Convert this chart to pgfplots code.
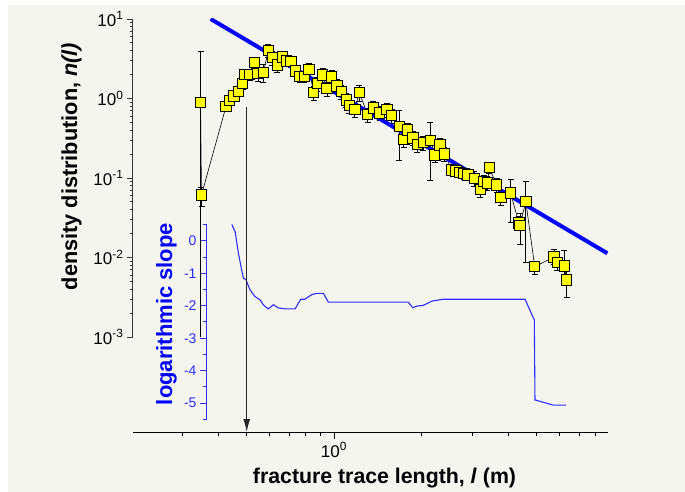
\documentclass[border=0pt]{standalone}
\usepackage{pgfplots}
\pgfplotsset{compat=1.18}
\usepackage{fontspec}
\setmainfont{Liberation Sans}
\usetikzlibrary{arrows.meta}
\definecolor{bg}{RGB}{245,245,240}
\definecolor{slopeblue}{RGB}{45,45,255}
\definecolor{mkyellow}{RGB}{255,255,0}
\begin{document}
\begin{tikzpicture}
\path (0pt,0pt) rectangle (685pt,492pt);
\fill[bg] (8pt,0pt) rectangle (685pt,487pt);
% inset: logarithmic slope
\begin{axis}[at={(206pt,72pt)}, anchor=south west, scale only axis, width=402pt, height=196pt,
  xmode=log, xmin=0.3619, xmax=8.807, ymin=-5.517, ymax=0.514,
  axis x line=none, axis y line*=left,
  axis line style={-, slopeblue, line width=1pt},
  ytick={-5,-4,-3,-2,-1,0}, yticklabels={-5,-4,-3,-2,-1,0},
  minor ytick={-5.5,-4.5,-3.5,-2.5,-1.5,-0.5,0.5},
  tick align=outside, major tick length=6pt, minor tick length=3.5pt,
  tick style={slopeblue, line width=0.9pt},
  yticklabel style={text=slopeblue, font=\fontsize{14}{16}\selectfont},
  clip=true]
\addplot[slopeblue, line width=1.1pt] coordinates {
(0.444,0.50) (0.456,0.28) (0.468,-0.38) (0.480,-0.89) (0.487,-1.15) (0.497,-1.20)
(0.513,-1.51) (0.534,-1.72) (0.556,-1.82) (0.570,-1.97) (0.593,-2.10) (0.618,-1.97)
(0.643,-2.07) (0.687,-2.10) (0.734,-2.10) (0.768,-1.80) (0.794,-1.80) (0.838,-1.66)
(0.872,-1.62) (0.919,-1.62) (0.956,-1.89) (1.804,-1.89) (1.868,-2.06) (1.938,-2.01)
(2.032,-1.99) (2.172,-1.86) (2.382,-1.80) (4.557,-1.80) (4.906,-2.44) (4.932,-4.90)
(5.704,-5.06) (6.31,-5.06)};
\end{axis}
% bottom x axis and arrow
\begin{axis}[at={(133pt,60pt)}, anchor=south west, scale only axis, width=475pt, height=413pt,
  xmode=log, ymode=log, xmin=0.2027, xmax=8.807, ymin=6.38e-5, ymax=10,
  axis y line=none, axis x line*=bottom,
  axis line style={-, black, line width=1pt},
  xtick={1}, xticklabels={10\textsuperscript{0}},
  minor xtick={0.3,0.4,0.5,0.6,0.7,0.8,0.9,2,3,4,5,6,7,8},
  tick align=outside, major tick length=7pt, minor tick length=4pt,
  tick style={black, line width=0.9pt},
  xticklabel style={font=\fontsize{17}{19}\selectfont},
  clip=false]
\addplot[black!85, line width=0.9pt, -{Latex[length=13pt,width=7pt]}] coordinates {(0.5,0.78) (0.5,6.38e-5)};
\end{axis}
% main axis
\begin{axis}[at={(133pt,155pt)}, anchor=south west, scale only axis, width=475pt, height=318pt,
  xmode=log, ymode=log, xmin=0.2027, xmax=8.807, ymin=1e-3, ymax=10,
  axis x line=none, axis y line*=left,
  axis line style={-, black!80, line width=1pt},
  ytick={1e-3,1e-2,1e-1,1,10},
  yticklabels={10\textsuperscript{-3},10\textsuperscript{-2},10\textsuperscript{-1},10\textsuperscript{0},10\textsuperscript{1}},
  minor ytick={2e-3,3e-3,4e-3,5e-3,6e-3,7e-3,8e-3,9e-3,2e-2,3e-2,4e-2,5e-2,6e-2,7e-2,8e-2,9e-2,0.2,0.3,0.4,0.5,0.6,0.7,0.8,0.9,2,3,4,5,6,7,8,9},
  tick align=outside, major tick length=6pt, minor tick length=3.5pt,
  tick style={black!80, line width=0.9pt},
  yticklabel style={font=\fontsize{17}{19}\selectfont},
  clip=true]
\addplot[black, line width=0.6pt, mark=square*, mark size=5.2pt,
  mark options={fill=mkyellow, draw=black, line width=0.9pt},
  error bars/.cd, y dir=both, y explicit relative,
  error bar style={black, line width=0.8pt},
  error mark options={rotate=90, mark size=3pt, black, line width=0.8pt}]
  table[x=x, y=y, y error plus=ep, y error minus=em] {
x y ep em
0.3465 0.885 3.39 0.999
0.3492 0.0611 0.26 0.29
0.4242 0.793 0.12 0.12
0.4351 0.938 0.12 0.12
0.4518 1.075 0.15 0.15
0.4684 1.235 0.15 0.15
0.4836 1.553 0.15 0.15
0.4906 1.993 0.15 0.15
0.5122 2.004 0.15 0.15
0.5308 2.837 0.15 0.15
0.5471 2.075 0.2 0.2
0.5706 2.118 0.25 0.25
0.5935 4.017 0.18 0.18
0.6136 3.28 0.2 0.2
0.6373 2.638 0.2 0.2
0.6628 3.337 0.15 0.15
0.6867 2.963 0.15 0.15
0.7097 2.904 0.15 0.15
0.7355 2.23 0.15 0.15
0.7633 1.88 0.15 0.15
0.791 1.902 0.15 0.15
0.8201 2.316 0.2 0.2
0.8511 1.19 0.2 0.2
0.877 1.553 0.2 0.2
0.9142 1.975 0.2 0.2
0.946 1.344 0.2 0.2
0.9819 1.864 0.2 0.2
1.024 1.436 0.2 0.2
1.061 1.235 0.2 0.2
1.102 0.957 0.2 0.2
1.129 0.816 0.2 0.2
1.18 0.7314 0.2 0.2
1.223 1.186 0.22 0.22
1.305 0.629 0.2 0.2
1.366 0.764 0.2 0.2
1.437 0.657 0.2 0.2
1.523 0.7334 0.2 0.2
1.581 0.6164 0.2 0.2
1.678 0.4418 0.59 0.62
1.741 0.3032 0.2 0.2
1.794 0.4016 0.2 0.2
1.873 0.3184 0.2 0.2
1.938 0.2638 0.2 0.2
2.035 0.278 0.2 0.2
2.151 0.298 0.67 0.69
2.23 0.1947 0.2 0.2
2.32 0.2601 0.2 0.2
2.404 0.2015 0.2 0.2
2.552 0.126 0.15 0.15
2.63 0.1232 0.15 0.15
2.711 0.1183 0.15 0.15
2.803 0.1136 0.15 0.15
2.898 0.1091 0.15 0.15
3.044 0.0991 0.23 0.21
3.2 0.0721 0.2 0.2
3.278 0.0898 0.2 0.2
3.383 0.0865 0.2 0.2
3.432 0.1351 0.15 0.15
3.634 0.0816 0.2 0.2
3.759 0.0572 0.2 0.2
4.064 0.0646 0.50 0.57
4.337 0.0273 0.2 0.2
4.379 0.0254 0.42 0.43
4.585 0.0506 0.81 0.83
4.922 0.00766 0.18 0.21
5.736 0.01015 0.25 0.2
5.888 0.0086 0.2 0.2
6.224 0.00787 0.58 0.25
6.345 0.00521 0.4 0.39
};
\addplot[blue, line width=4pt] coordinates {(0.3757,10) (8.76,0.0113)};
\end{axis}
\node[rotate=90, anchor=base, font=\fontsize{21.7}{24}\selectfont\bfseries] at (77pt,325.5pt) {density distribution, \textit{n(l)}};
\node[rotate=90, anchor=base, text=blue, font=\fontsize{22}{24}\selectfont\bfseries] at (172pt,178pt) {logarithmic slope};
\node[anchor=base, font=\fontsize{21.3}{24}\selectfont\bfseries] at (384.5pt,8pt) {fracture trace length, \textit{l} (m)};
\end{tikzpicture}
\end{document}
